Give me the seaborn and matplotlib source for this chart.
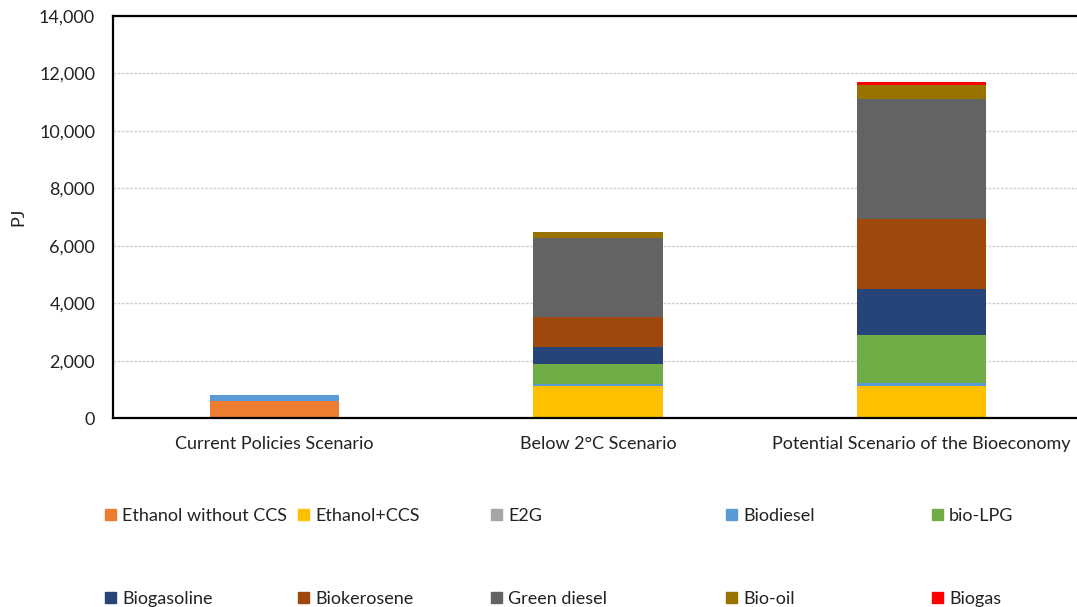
import matplotlib
matplotlib.use("Agg")
import matplotlib.pyplot as plt
import matplotlib.patches as mpatches
from matplotlib.ticker import FuncFormatter
import seaborn as sns
import pandas as pd
import numpy as np

# Scenarios on the x axis
scenarios = ["Current Policies Scenario", "Below 2°C Scenario",
             "Potential Scenario of the Bioeconomy"]

# Fuel supply per scenario (PJ), stacked bottom to top
fuels = ["Ethanol without CCS", "Ethanol+CCS", "E2G", "Biodiesel", "bio-LPG",
         "Biogasoline", "Biokerosene", "Green diesel", "Bio-oil", "Biogas"]
ethanol_no_ccs = [600, 0, 0]
ethanol_ccs = [0, 1130, 1130]
e2g = [0, 0, 0]
biodiesel = [220, 70, 95]
bio_lpg = [0, 700, 1670]
biogasoline = [0, 590, 1610]
biokerosene = [0, 1035, 2430]
green_diesel = [0, 2750, 4160]
bio_oil = [0, 220, 520]
biogas = [0, 0, 105]

series = [ethanol_no_ccs, ethanol_ccs, e2g, biodiesel, bio_lpg,
          biogasoline, biokerosene, green_diesel, bio_oil, biogas]
colors = ["#ED7D31", "#FFC000", "#A5A5A5", "#5B9BD5", "#70AD47",
          "#264478", "#9E480E", "#636363", "#997300", "#FF0000"]

sns.set_theme(style="white")
plt.rcParams["font.family"] = ["Lato", "DejaVu Sans"]

fig = plt.figure(figsize=(10.77, 6.07), dpi=100)
ax = fig.add_axes([0.105, 0.311, 0.9006, 0.6626])

bottom = np.zeros(len(scenarios))
for name, vals, col in zip(fuels, series, colors):
    df = pd.DataFrame({"scenario": scenarios, "value": vals})
    sns.barplot(data=df, x="scenario", y="value", color=col, width=0.40,
                bottom=bottom.copy(), ax=ax, saturation=1, errorbar=None,
                linewidth=0)
    bottom += np.array(vals, dtype=float)

ax.set_ylim(0, 14000)
ax.set_xlim(-0.5, 2.5)
ax.set_yticks(np.arange(0, 14001, 2000))
ax.yaxis.set_major_formatter(FuncFormatter(lambda v, p: f"{int(v):,}"))
ax.grid(axis="y", color="#D0D0D0", linewidth=1.0, linestyle=(0, (2, 1)))
ax.set_axisbelow(True)
ax.set_xlabel("")
ax.set_ylabel("PJ", fontsize=13, color="#222222", labelpad=9)
ax.tick_params(axis="both", labelsize=13, colors="#222222", length=0)
ax.tick_params(axis="x", pad=13)
ax.tick_params(axis="y", pad=13)
for s in ax.spines.values():
    s.set_color("black")
    s.set_linewidth(1.6)

# Legend laid out as five columns of two entries
col_x = [105, 298, 491, 726, 932]
W, H = 1077, 607
for i, cx in enumerate(col_x):
    handles = [mpatches.Patch(color=colors[i], label=fuels[i]),
               mpatches.Patch(color=colors[i + 5], label=fuels[i + 5])]
    fig.legend(handles=handles, loc="upper left",
               bbox_to_anchor=(cx / W, 1 - 508 / H),
               frameon=False, fontsize=13, handlelength=0.6,
               handleheight=0.6, handletextpad=0.35, labelspacing=3.7,
               borderpad=0, borderaxespad=0, labelcolor="#222222")

fig.savefig("out.png", dpi=100)
